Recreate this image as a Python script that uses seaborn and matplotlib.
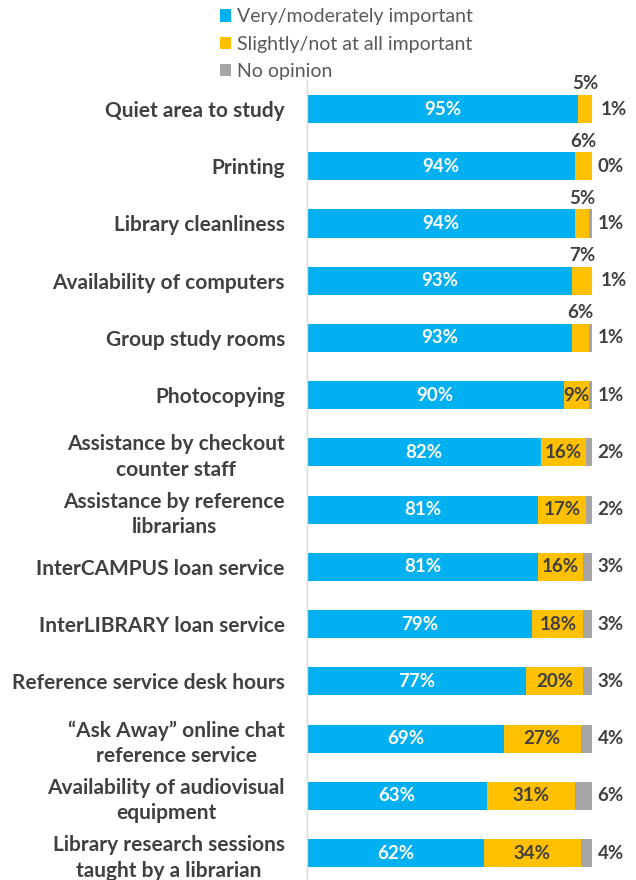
import numpy as np
import pandas as pd
import matplotlib
matplotlib.use("Agg")
import matplotlib.pyplot as plt
import seaborn as sns
from matplotlib.patches import Patch

sns.set_style("white")
plt.rcParams['font.family'] = ['Lato', 'DejaVu Sans']

categories = [
    "Quiet area to study",
    "Printing",
    "Library cleanliness",
    "Availability of computers",
    "Group study rooms",
    "Photocopying",
    "Assistance by checkout\ncounter staff",
    "Assistance by reference\nlibrarians",
    "InterCAMPUS loan service",
    "InterLIBRARY loan service",
    "Reference service desk hours",
    "\u201cAsk Away\u201d online chat\nreference service",
    "Availability of audiovisual\nequipment",
    "Library research sessions\ntaught by a librarian",
]
important = [95, 94, 94, 93, 93, 90, 82, 81, 81, 79, 77, 69, 63, 62]
slightly = [5, 6, 5, 7, 6, 9, 16, 17, 16, 18, 20, 27, 31, 34]
no_opinion = [1, 0, 1, 1, 1, 1, 2, 2, 3, 3, 3, 4, 6, 4]

series_names = ["Very/moderately important", "Slightly/not at all important", "No opinion"]
BLUE, YELLOW, GRAY = "#00B0F0", "#FFC000", "#A5A5A5"
DARK = "#404040"

df = pd.DataFrame({"category": categories, "important": important,
                   "slightly": slightly, "no_opinion": no_opinion})
df["cum2"] = df["important"] + df["slightly"]
df["total"] = df["cum2"] + df["no_opinion"]

fig = plt.figure(figsize=(6.36, 8.8), dpi=100)
ax = fig.add_axes([307 / 636, 0.0, 285 / 636, 800 / 880])

# stacked by overlapping cumulative bars
sns.barplot(data=df, x="total", y="category", color=GRAY, width=0.49,
            orient="h", ax=ax, linewidth=0, saturation=1)
sns.barplot(data=df, x="cum2", y="category", color=YELLOW, width=0.49,
            orient="h", ax=ax, linewidth=0, saturation=1)
sns.barplot(data=df, x="important", y="category", color=BLUE, width=0.49,
            orient="h", ax=ax, linewidth=0, saturation=1)

ax.set_xlim(0, 100)
ax.set_ylim(13.47, -0.507)
ax.set_xlabel("")
ax.set_ylabel("")
ax.set_xticks([])
ax.set_yticks(range(len(categories)))
ax.set_yticklabels(categories, fontsize=15, fontweight="bold", color=DARK,
                   linespacing=1.35)
for t in ax.get_yticklabels():
    t.set_multialignment("center")
ax.tick_params(axis="y", length=0, pad=16)
for s in ["top", "right", "bottom"]:
    ax.spines[s].set_visible(False)
ax.spines["left"].set_color("#D9D9D9")
ax.spines["left"].set_linewidth(1)

fs = 13.5
for i, row in df.iterrows():
    ax.text(row["important"] / 2, i, f"{row['important']}%", ha="center", va="center",
            color="white", fontsize=fs, fontweight="bold")
    mid = row["important"] + row["slightly"] / 2
    if row["slightly"] >= 9:
        ax.text(mid, i, f"{row['slightly']}%", ha="center", va="center",
                color=DARK, fontsize=fs, fontweight="bold")
    else:
        ax.text(mid, i - 0.44, f"{row['slightly']}%", ha="center", va="center",
                color=DARK, fontsize=fs, fontweight="bold")
    ax.annotate(f"{row['no_opinion']}%", xy=(row["total"], i), xytext=(4, 0),
                textcoords="offset points", ha="left", va="center",
                color=DARK, fontsize=fs, fontweight="bold", annotation_clip=False)

handles = [Patch(facecolor=c, edgecolor="none") for c in [BLUE, YELLOW, GRAY]]
fig.legend(handles, series_names, loc="upper left", bbox_to_anchor=(202 / 636, 1.0 + 9 / 880),
           frameon=False, fontsize=14, labelcolor="#595959", handlelength=0.6,
           handleheight=0.6, handletextpad=0.3, labelspacing=0.52)

fig.savefig("out.png", dpi=100)
